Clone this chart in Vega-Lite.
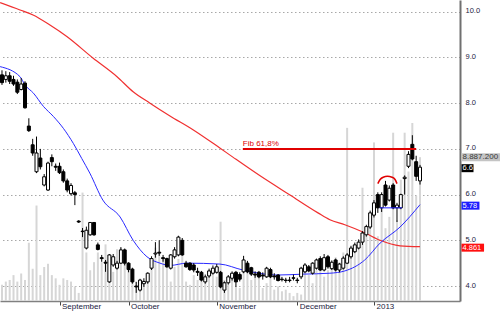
{
  "$schema": "https://vega.github.io/schema/vega-lite/v6.json",
  "width": 460,
  "height": 301,
  "autosize": {"type": "none"},
  "padding": {"left": 0, "top": 0, "right": 40, "bottom": 11},
  "background": "white",
  "config": {"view": {"stroke": null}, "font": "Liberation Sans"},
  "datasets": {
    "candles": [
      {"i":0,"o":8.62,"h":8.72,"l":8.40,"c":8.45,"v":1.0},
      {"i":1,"o":8.52,"h":8.70,"l":8.45,"c":8.60,"v":1.2},
      {"i":2,"o":8.60,"h":8.68,"l":8.42,"c":8.48,"v":1.3},
      {"i":3,"o":8.52,"h":8.60,"l":8.38,"c":8.42,"v":1.6},
      {"i":4,"o":8.46,"h":8.52,"l":8.20,"c":8.24,"v":1.2},
      {"i":5,"o":8.30,"h":8.55,"l":8.28,"c":8.42,"v":1.7},
      {"i":6,"o":8.44,"h":8.48,"l":7.88,"c":7.90,"v":1.3},
      {"i":7,"o":7.50,"h":7.67,"l":7.37,"c":7.40,"v":3.6},
      {"i":8,"o":7.09,"h":7.22,"l":6.85,"c":6.91,"v":2.0},
      {"i":9,"o":6.50,"h":7.27,"l":6.47,"c":6.91,"v":5.9},
      {"i":10,"o":6.80,"h":7.00,"l":6.55,"c":6.61,"v":1.6},
      {"i":11,"o":6.21,"h":6.45,"l":6.18,"c":6.39,"v":2.1},
      {"i":12,"o":6.10,"h":6.72,"l":6.08,"c":6.69,"v":2.3},
      {"i":13,"o":6.81,"h":6.88,"l":6.62,"c":6.72,"v":1.6},
      {"i":14,"o":6.62,"h":6.68,"l":6.52,"c":6.60,"v":1.4},
      {"i":15,"o":6.62,"h":6.70,"l":6.45,"c":6.48,"v":1.0},
      {"i":16,"o":6.50,"h":6.55,"l":6.26,"c":6.30,"v":1.4},
      {"i":17,"o":6.30,"h":6.35,"l":6.05,"c":6.10,"v":1.3},
      {"i":18,"o":6.02,"h":6.25,"l":5.98,"c":6.20,"v":1.2},
      {"i":19,"o":6.04,"h":6.08,"l":5.77,"c":6.00,"v":0.9},
      {"i":20,"o":5.42,"h":5.44,"l":5.38,"c":5.40,"v":0.5},
      {"i":21,"o":5.20,"h":5.27,"l":5.07,"c":5.19,"v":6.7},
      {"i":22,"o":4.83,"h":5.30,"l":4.80,"c":5.22,"v":3.0},
      {"i":23,"o":5.12,"h":5.40,"l":5.10,"c":5.39,"v":1.9},
      {"i":24,"o":5.39,"h":5.40,"l":5.10,"c":5.12,"v":2.4},
      {"i":25,"o":4.90,"h":4.95,"l":4.78,"c":4.80,"v":3.0},
      {"i":26,"o":4.62,"h":4.68,"l":4.53,"c":4.60,"v":2.4},
      {"i":27,"o":4.52,"h":4.57,"l":4.31,"c":4.50,"v":3.5},
      {"i":28,"o":4.09,"h":4.70,"l":4.07,"c":4.68,"v":2.2},
      {"i":29,"o":4.46,"h":4.70,"l":4.42,"c":4.64,"v":1.8},
      {"i":30,"o":4.39,"h":4.55,"l":4.36,"c":4.50,"v":3.2},
      {"i":31,"o":4.50,"h":4.85,"l":4.48,"c":4.79,"v":3.3},
      {"i":32,"o":4.79,"h":4.82,"l":4.45,"c":4.50,"v":2.5},
      {"i":33,"o":4.50,"h":4.52,"l":4.30,"c":4.36,"v":2.0},
      {"i":34,"o":4.37,"h":4.40,"l":4.05,"c":4.09,"v":1.9},
      {"i":35,"o":4.00,"h":4.09,"l":3.85,"c":3.98,"v":1.2},
      {"i":36,"o":3.91,"h":4.15,"l":3.88,"c":4.13,"v":1.4},
      {"i":37,"o":4.05,"h":4.17,"l":3.98,"c":4.10,"v":1.2},
      {"i":38,"o":4.09,"h":4.30,"l":4.05,"c":4.28,"v":1.5},
      {"i":39,"o":4.39,"h":4.65,"l":4.35,"c":4.60,"v":2.0},
      {"i":40,"o":4.70,"h":4.96,"l":4.62,"c":4.72,"v":3.3},
      {"i":41,"o":4.74,"h":5.00,"l":4.66,"c":4.72,"v":3.0},
      {"i":42,"o":4.62,"h":4.68,"l":4.53,"c":4.60,"v":2.7},
      {"i":43,"o":4.60,"h":4.62,"l":4.40,"c":4.42,"v":2.5},
      {"i":44,"o":4.39,"h":4.70,"l":4.36,"c":4.68,"v":1.2},
      {"i":45,"o":4.64,"h":4.85,"l":4.60,"c":4.79,"v":2.1},
      {"i":46,"o":4.68,"h":5.10,"l":4.65,"c":5.07,"v":2.6},
      {"i":47,"o":5.00,"h":5.05,"l":4.66,"c":4.68,"v":2.8},
      {"i":48,"o":4.50,"h":4.55,"l":4.40,"c":4.42,"v":1.2},
      {"i":49,"o":4.50,"h":4.52,"l":4.33,"c":4.36,"v":1.0},
      {"i":50,"o":4.46,"h":4.50,"l":4.30,"c":4.35,"v":1.6},
      {"i":51,"o":4.32,"h":4.40,"l":4.22,"c":4.30,"v":1.3},
      {"i":52,"o":4.30,"h":4.33,"l":4.10,"c":4.13,"v":1.5},
      {"i":53,"o":4.09,"h":4.25,"l":4.05,"c":4.20,"v":1.4},
      {"i":54,"o":4.22,"h":4.38,"l":4.18,"c":4.33,"v":1.7},
      {"i":55,"o":4.28,"h":4.45,"l":4.25,"c":4.39,"v":1.9},
      {"i":56,"o":4.30,"h":4.48,"l":4.27,"c":4.42,"v":1.5},
      {"i":57,"o":4.30,"h":4.33,"l":3.95,"c":3.98,"v":4.9},
      {"i":58,"o":3.91,"h":4.10,"l":3.85,"c":4.07,"v":1.3},
      {"i":59,"o":4.07,"h":4.24,"l":4.03,"c":4.20,"v":1.0},
      {"i":60,"o":4.17,"h":4.32,"l":4.12,"c":4.28,"v":1.4},
      {"i":61,"o":4.30,"h":4.33,"l":3.98,"c":4.09,"v":0.9},
      {"i":62,"o":4.25,"h":4.30,"l":4.10,"c":4.15,"v":0.8},
      {"i":63,"o":4.31,"h":4.66,"l":4.28,"c":4.57,"v":2.5},
      {"i":64,"o":4.50,"h":4.55,"l":4.28,"c":4.31,"v":2.0},
      {"i":65,"o":4.40,"h":4.42,"l":4.22,"c":4.26,"v":1.3},
      {"i":66,"o":4.26,"h":4.32,"l":4.18,"c":4.24,"v":1.8},
      {"i":67,"o":4.30,"h":4.33,"l":4.17,"c":4.20,"v":1.5},
      {"i":68,"o":4.24,"h":4.30,"l":4.14,"c":4.22,"v":0.8},
      {"i":69,"o":4.20,"h":4.42,"l":4.18,"c":4.39,"v":1.1},
      {"i":70,"o":4.36,"h":4.40,"l":4.17,"c":4.20,"v":1.4},
      {"i":71,"o":4.22,"h":4.28,"l":4.14,"c":4.20,"v":0.7},
      {"i":72,"o":4.24,"h":4.26,"l":4.10,"c":4.12,"v":0.9},
      {"i":73,"o":4.15,"h":4.20,"l":4.10,"c":4.14,"v":0.6},
      {"i":74,"o":4.13,"h":4.18,"l":4.07,"c":4.12,"v":0.7},
      {"i":75,"o":4.12,"h":4.20,"l":4.08,"c":4.13,"v":0.5},
      {"i":76,"o":4.18,"h":4.25,"l":4.12,"c":4.17,"v":0.3},
      {"i":77,"o":4.13,"h":4.18,"l":4.06,"c":4.12,"v":0.5},
      {"i":78,"o":4.20,"h":4.42,"l":4.15,"c":4.39,"v":0.4},
      {"i":79,"o":4.31,"h":4.50,"l":4.28,"c":4.46,"v":2.2},
      {"i":80,"o":4.42,"h":4.46,"l":4.30,"c":4.33,"v":1.6},
      {"i":81,"o":4.28,"h":4.52,"l":4.25,"c":4.50,"v":1.1},
      {"i":82,"o":4.39,"h":4.60,"l":4.36,"c":4.57,"v":1.9},
      {"i":83,"o":4.60,"h":4.65,"l":4.33,"c":4.35,"v":2.2},
      {"i":84,"o":4.35,"h":4.70,"l":4.32,"c":4.62,"v":1.5},
      {"i":85,"o":4.64,"h":4.68,"l":4.38,"c":4.42,"v":1.9},
      {"i":86,"o":4.38,"h":4.56,"l":4.35,"c":4.52,"v":2.3},
      {"i":87,"o":4.57,"h":4.60,"l":4.32,"c":4.35,"v":2.7},
      {"i":88,"o":4.35,"h":4.50,"l":4.30,"c":4.48,"v":2.4},
      {"i":89,"o":4.39,"h":4.65,"l":4.36,"c":4.61,"v":3.0},
      {"i":90,"o":4.50,"h":4.72,"l":4.48,"c":4.68,"v":10.7},
      {"i":91,"o":4.64,"h":4.88,"l":4.60,"c":4.83,"v":3.0},
      {"i":92,"o":4.75,"h":4.95,"l":4.72,"c":4.90,"v":3.5},
      {"i":93,"o":4.83,"h":5.02,"l":4.80,"c":4.96,"v":3.2},
      {"i":94,"o":4.96,"h":5.20,"l":4.90,"c":5.16,"v":7.0},
      {"i":95,"o":5.12,"h":5.34,"l":5.08,"c":5.30,"v":4.0},
      {"i":96,"o":5.29,"h":5.65,"l":5.25,"c":5.60,"v":5.5},
      {"i":97,"o":5.55,"h":5.88,"l":5.50,"c":5.82,"v":9.8},
      {"i":98,"o":6.00,"h":6.05,"l":5.60,"c":5.71,"v":4.0},
      {"i":99,"o":5.71,"h":6.05,"l":5.62,"c":6.00,"v":6.5},
      {"i":100,"o":6.21,"h":6.30,"l":5.74,"c":5.77,"v":4.5},
      {"i":101,"o":5.88,"h":6.20,"l":5.85,"c":6.14,"v":5.2},
      {"i":102,"o":6.21,"h":6.25,"l":5.68,"c":5.71,"v":10.4},
      {"i":103,"o":5.71,"h":5.82,"l":5.40,"c":5.77,"v":5.0},
      {"i":104,"o":5.71,"h":6.02,"l":5.68,"c":6.00,"v":7.5},
      {"i":105,"o":6.35,"h":6.42,"l":6.00,"c":6.38,"v":10.4},
      {"i":106,"o":6.62,"h":6.95,"l":6.58,"c":6.88,"v":8.0},
      {"i":107,"o":7.10,"h":7.30,"l":6.75,"c":6.78,"v":11.0},
      {"i":108,"o":6.72,"h":6.85,"l":6.30,"c":6.40,"v":6.5},
      {"i":109,"o":6.30,"h":6.65,"l":6.22,"c":6.60,"v":8.8872}
    ],
    "ma": [
      {"s":"slow","i":-0.5,"v":10.2},{"s":"slow","i":4.7,"v":10.04},{"s":"slow","i":8.1,"v":9.93},
      {"s":"slow","i":12.5,"v":9.71},{"s":"slow","i":16.9,"v":9.46},{"s":"slow","i":23.7,"v":8.99},
      {"s":"slow","i":30.0,"v":8.58},{"s":"slow","i":34.2,"v":8.25},{"s":"slow","i":38.6,"v":8.0},
      {"s":"slow","i":43.8,"v":7.72},{"s":"slow","i":49.8,"v":7.42},{"s":"slow","i":56.8,"v":7.02},
      {"s":"slow","i":60.2,"v":6.82},{"s":"slow","i":67.3,"v":6.41},{"s":"slow","i":75.1,"v":5.99},
      {"s":"slow","i":82.4,"v":5.6},{"s":"slow","i":85.5,"v":5.45},{"s":"slow","i":89.4,"v":5.34},
      {"s":"slow","i":94.7,"v":5.16},{"s":"slow","i":98.6,"v":5.0},{"s":"slow","i":103.8,"v":4.88},
      {"s":"slow","i":109,"v":4.86},
      {"s":"fast","i":-0.5,"v":8.8},{"s":"fast","i":4.7,"v":8.58},{"s":"fast","i":6.0,"v":8.4},
      {"s":"fast","i":8.2,"v":8.22},{"s":"fast","i":10.8,"v":7.93},{"s":"fast","i":13.4,"v":7.71},
      {"s":"fast","i":16.0,"v":7.45},{"s":"fast","i":18.6,"v":7.12},{"s":"fast","i":20.8,"v":6.79},
      {"s":"fast","i":22.9,"v":6.47},{"s":"fast","i":26.3,"v":5.88},{"s":"fast","i":30.8,"v":5.51},
      {"s":"fast","i":34.2,"v":5.0},{"s":"fast","i":37.8,"v":4.64},{"s":"fast","i":41.2,"v":4.5},
      {"s":"fast","i":43.8,"v":4.45},{"s":"fast","i":48.2,"v":4.5},{"s":"fast","i":56.8,"v":4.48},
      {"s":"fast","i":62.8,"v":4.35},{"s":"fast","i":71.7,"v":4.24},{"s":"fast","i":78.5,"v":4.26},
      {"s":"fast","i":85.5,"v":4.28},{"s":"fast","i":89.4,"v":4.33},{"s":"fast","i":94.6,"v":4.57},
      {"s":"fast","i":98.6,"v":4.94},{"s":"fast","i":103.8,"v":5.29},{"s":"fast","i":109,"v":5.78}
    ],
    "fib": [{"i1": 62.8, "i2": 108, "v": 7.0, "t": "Fib 61,8%"}],
    "support": [{"i1": 98.5, "i2": 104.3, "v": 5.71}],
    "arc": [
      {"i": 98.0, "v": 6.24}, {"i": 98.6, "v": 6.33}, {"i": 99.4, "v": 6.38},
      {"i": 100.5, "v": 6.40}, {"i": 101.7, "v": 6.38}, {"i": 102.5, "v": 6.33}, {"i": 103.0, "v": 6.24}
    ],
    "tags": [
      {"k": "close", "v": 6.6, "t": "6.6"},
      {"k": "fast", "v": 5.78, "t": "5.78"},
      {"k": "slow", "v": 4.861, "t": "4.861"}
    ],
    "voltag": [{"v": 8.8872, "t": "8.887.200"}]
  },
  "resolve": {"scale": {"y": "independent"}},
  "layer": [
    {
      "layer": [
        {
          "data": {"name": "candles"},
          "mark": {"type": "bar", "width": 2, "color": "#d6d6d6"},
          "encoding": {
            "x": {
              "field": "i", "type": "quantitative", "title": null,
              "scale": {"domain": [-0.5215, 119.43], "nice": false, "zero": false, "padding": 0},
              "axis": {
                "values": [15, 33, 56, 77, 97],
                "labelExpr": "datum.value == 15 ? 'September' : datum.value == 33 ? 'October' : datum.value == 56 ? 'November' : datum.value == 77 ? 'December' : '2013'",
                "title": null, "grid": false,
                "labelAlign": "left", "labelBaseline": "top", "labelFontSize": 8,
                "labelColor": "#1a1a40", "labelFont": "Liberation Sans",
                "labelPadding": -3, "labelOffset": 2,
                "tickSize": 4, "tickColor": "#444444",
                "domainColor": "#808080", "domainWidth": 1.5,
                "labelFlush": false, "labelOverlap": false, "labelBound": false
              }
            },
            "y": {
              "field": "v", "type": "quantitative",
              "scale": {"domain": [0, 18.6], "nice": false, "zero": false, "padding": 0},
              "axis": null
            }
          }
        },
        {
          "data": {"name": "voltag"},
          "mark": {"type": "bar", "orient": "horizontal", "height": 8, "color": "#c4c4c4"},
          "encoding": {
            "x": {"datum": 119.82, "type": "quantitative"},
            "x2": {"datum": 131},
            "y": {"field": "v", "type": "quantitative", "axis": null}
          }
        },
        {
          "data": {"name": "voltag"},
          "mark": {"type": "text", "align": "left", "baseline": "middle", "fontSize": 8, "color": "#3a3a3a", "font": "Liberation Sans"},
          "encoding": {
            "x": {"datum": 120.08, "type": "quantitative"},
            "y": {"field": "v", "type": "quantitative", "axis": null},
            "text": {"field": "t"}
          }
        }
      ]
    },
    {
      "layer": [
        {
          "mark": {"type": "rule", "color": "#a8a8a8", "strokeDash": [1.5, 2.5], "strokeWidth": 1},
          "encoding": {"x": {"datum": 97, "type": "quantitative"}}
        },
        {
          "data": {"name": "ma"},
          "transform": [{"filter": "datum.s == 'slow'"}],
          "mark": {"type": "line", "color": "#f03030", "strokeWidth": 1.2, "interpolate": "monotone"},
          "encoding": {
            "x": {"field": "i", "type": "quantitative", "title": null},
            "y": {"field": "v", "type": "quantitative", "title": null}
          }
        },
        {
          "data": {"name": "ma"},
          "transform": [{"filter": "datum.s == 'fast'"}],
          "mark": {"type": "line", "color": "#2a2aff", "strokeWidth": 1, "interpolate": "monotone"},
          "encoding": {
            "x": {"field": "i", "type": "quantitative", "title": null},
            "y": {"field": "v", "type": "quantitative", "title": null}
          }
        },
        {
          "data": {"name": "candles"},
          "mark": {"type": "rule", "color": "black", "strokeWidth": 1},
          "encoding": {
            "x": {"field": "i", "type": "quantitative", "title": null},
            "y": {"field": "l", "type": "quantitative", "title": null},
            "y2": {"field": "h"}
          }
        },
        {
          "data": {"name": "candles"},
          "mark": {"type": "bar", "width": 3, "stroke": "black", "strokeWidth": 1},
          "encoding": {
            "x": {"field": "i", "type": "quantitative", "title": null},
            "y": {
              "field": "o", "type": "quantitative", "title": null,
              "scale": {"domain": [3.672, 10.258], "nice": false, "zero": false, "padding": 0},
              "axis": {
                "orient": "right", "values": [4, 5, 6, 7, 8, 9, 10], "format": ".1f",
                "title": null, "ticks": false, "tickSize": 0, "labelPadding": 5,
                "labelFontSize": 7.5, "labelColor": "#1a1a40", "labelFont": "Liberation Sans",
                "labelBaseline": "middle", "labelOffset": -1,
                "domainColor": "#707070", "domainWidth": 2,
                "grid": true, "gridColor": "#a8a8a8", "gridDash": [1.5, 2.5], "gridWidth": 1
              }
            },
            "y2": {"field": "c"},
            "fill": {"condition": {"test": "datum.c >= datum.o", "value": "white"}, "value": "black"}
          }
        },
        {
          "data": {"name": "fib"},
          "mark": {"type": "rule", "color": "#e00000", "strokeWidth": 2},
          "encoding": {
            "x": {"field": "i1", "type": "quantitative", "title": null},
            "x2": {"field": "i2"},
            "y": {"field": "v", "type": "quantitative", "title": null}
          }
        },
        {
          "data": {"name": "fib"},
          "mark": {"type": "text", "align": "left", "baseline": "alphabetic", "dy": -3, "fontSize": 8, "color": "#e00000", "font": "Liberation Sans"},
          "encoding": {
            "x": {"field": "i1", "type": "quantitative", "title": null},
            "y": {"field": "v", "type": "quantitative", "title": null},
            "text": {"field": "t"}
          }
        },
        {
          "data": {"name": "support"},
          "mark": {"type": "rule", "color": "#2020ff", "strokeWidth": 1},
          "encoding": {
            "x": {"field": "i1", "type": "quantitative", "title": null},
            "x2": {"field": "i2"},
            "y": {"field": "v", "type": "quantitative", "title": null}
          }
        },
        {
          "data": {"name": "arc"},
          "mark": {"type": "line", "color": "#e00000", "strokeWidth": 1.5, "interpolate": "monotone"},
          "encoding": {
            "x": {"field": "i", "type": "quantitative", "title": null},
            "y": {"field": "v", "type": "quantitative", "title": null}
          }
        },
        {
          "data": {"name": "tags"},
          "transform": [{"filter": "datum.k == 'close'"}],
          "mark": {"type": "bar", "orient": "horizontal", "height": 8, "yOffset": 1, "color": "black"},
          "encoding": {
            "x": {"datum": 119.82, "type": "quantitative"},
            "x2": {"datum": 122.95},
            "y": {"field": "v", "type": "quantitative", "title": null}
          }
        },
        {
          "data": {"name": "tags"},
          "transform": [{"filter": "datum.k == 'fast'"}],
          "mark": {"type": "bar", "orient": "horizontal", "height": 8, "yOffset": 1, "color": "#1e1eff"},
          "encoding": {
            "x": {"datum": 119.82, "type": "quantitative"},
            "x2": {"datum": 124.5},
            "y": {"field": "v", "type": "quantitative", "title": null}
          }
        },
        {
          "data": {"name": "tags"},
          "transform": [{"filter": "datum.k == 'slow'"}],
          "mark": {"type": "bar", "orient": "horizontal", "height": 8, "yOffset": 1, "color": "#ff1010"},
          "encoding": {
            "x": {"datum": 119.82, "type": "quantitative"},
            "x2": {"datum": 125.7},
            "y": {"field": "v", "type": "quantitative", "title": null}
          }
        },
        {
          "data": {"name": "tags"},
          "mark": {"type": "text", "align": "left", "baseline": "middle", "dy": 1, "fontSize": 7.5, "color": "white", "font": "Liberation Sans"},
          "encoding": {
            "x": {"datum": 120.08, "type": "quantitative"},
            "y": {"field": "v", "type": "quantitative", "title": null},
            "text": {"field": "t"}
          }
        }
      ]
    }
  ]
}
